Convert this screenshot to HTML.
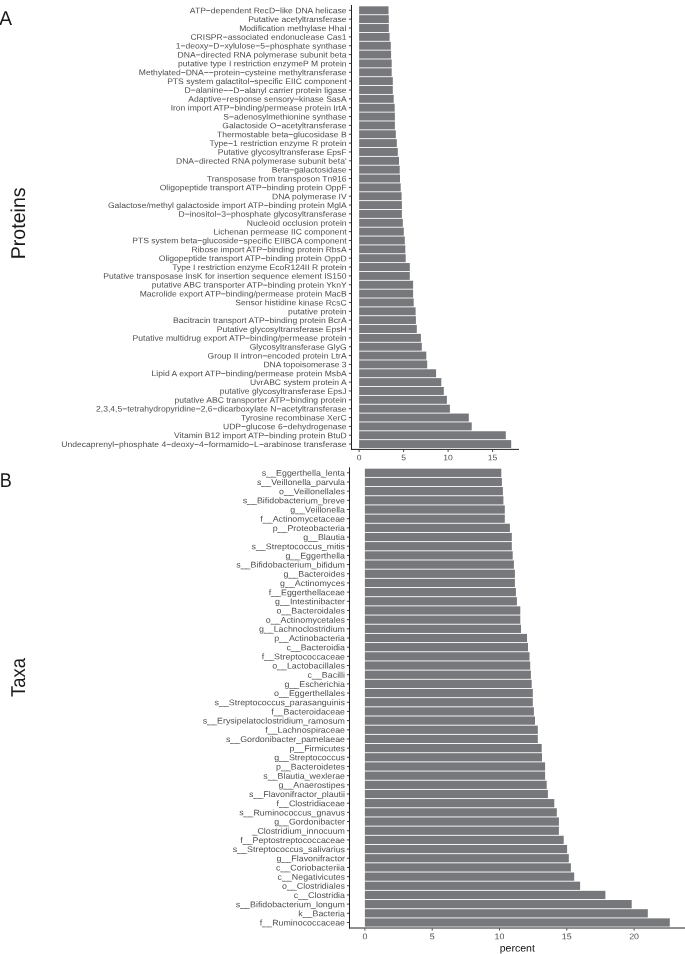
<!DOCTYPE html>
<html lang="en"><head><meta charset="utf-8"><title>Figure</title>
<style>html,body{margin:0;padding:0;background:#fff}svg{display:block}text{text-rendering:geometricPrecision}</style></head>
<body>
<svg width="685" height="954" viewBox="0 0 685 954" font-family="'Liberation Sans', Arial, Helvetica, sans-serif">
<rect width="685" height="954" fill="#ffffff"/>
<g fill="#77787b">
<rect x="359.10" y="6.33" width="29.40" height="7.97"/>
<rect x="359.10" y="15.18" width="29.70" height="7.97"/>
<rect x="359.10" y="24.03" width="29.70" height="7.97"/>
<rect x="359.10" y="32.89" width="30.50" height="7.97"/>
<rect x="359.10" y="41.74" width="31.70" height="7.97"/>
<rect x="359.10" y="50.59" width="32.00" height="7.97"/>
<rect x="359.10" y="59.44" width="32.60" height="7.97"/>
<rect x="359.10" y="68.30" width="32.60" height="7.97"/>
<rect x="359.10" y="77.15" width="33.70" height="7.97"/>
<rect x="359.10" y="86.00" width="33.70" height="7.97"/>
<rect x="359.10" y="94.85" width="34.60" height="7.97"/>
<rect x="359.10" y="103.71" width="35.60" height="7.97"/>
<rect x="359.10" y="112.56" width="35.80" height="7.97"/>
<rect x="359.10" y="121.41" width="35.80" height="7.97"/>
<rect x="359.10" y="130.26" width="36.70" height="7.97"/>
<rect x="359.10" y="139.12" width="37.70" height="7.97"/>
<rect x="359.10" y="147.97" width="38.70" height="7.97"/>
<rect x="359.10" y="156.82" width="39.90" height="7.97"/>
<rect x="359.10" y="165.67" width="40.60" height="7.97"/>
<rect x="359.10" y="174.53" width="40.90" height="7.97"/>
<rect x="359.10" y="183.38" width="41.60" height="7.97"/>
<rect x="359.10" y="192.23" width="42.50" height="7.97"/>
<rect x="359.10" y="201.08" width="42.80" height="7.97"/>
<rect x="359.10" y="209.94" width="42.80" height="7.97"/>
<rect x="359.10" y="218.79" width="43.70" height="7.97"/>
<rect x="359.10" y="227.64" width="44.70" height="7.97"/>
<rect x="359.10" y="236.50" width="45.70" height="7.97"/>
<rect x="359.10" y="245.35" width="46.20" height="7.97"/>
<rect x="359.10" y="254.20" width="46.60" height="7.97"/>
<rect x="359.10" y="263.05" width="50.70" height="7.97"/>
<rect x="359.10" y="271.91" width="50.70" height="7.97"/>
<rect x="359.10" y="280.76" width="54.00" height="7.97"/>
<rect x="359.10" y="289.61" width="54.00" height="7.97"/>
<rect x="359.10" y="298.46" width="54.60" height="7.97"/>
<rect x="359.10" y="307.32" width="56.50" height="7.97"/>
<rect x="359.10" y="316.17" width="56.80" height="7.97"/>
<rect x="359.10" y="325.02" width="57.70" height="7.97"/>
<rect x="359.10" y="333.87" width="61.80" height="7.97"/>
<rect x="359.10" y="342.73" width="62.70" height="7.97"/>
<rect x="359.10" y="351.58" width="67.20" height="7.97"/>
<rect x="359.10" y="360.43" width="68.10" height="7.97"/>
<rect x="359.10" y="369.28" width="77.00" height="7.97"/>
<rect x="359.10" y="378.14" width="82.20" height="7.97"/>
<rect x="359.10" y="386.99" width="84.70" height="7.97"/>
<rect x="359.10" y="395.84" width="87.80" height="7.97"/>
<rect x="359.10" y="404.69" width="90.80" height="7.97"/>
<rect x="359.10" y="413.55" width="109.70" height="7.97"/>
<rect x="359.10" y="422.40" width="112.60" height="7.97"/>
<rect x="359.10" y="431.25" width="146.70" height="7.97"/>
<rect x="359.10" y="440.10" width="152.10" height="7.97"/>
</g>
<g stroke="#222222" stroke-width="1.00" fill="none">
<path d="M351.50 5.00V449.90"/>
<path d="M351.00 449.40H519.00"/>
</g>
<path stroke="#2a2a2a" stroke-width="0.85" fill="none" d="M348.90 10.31h2.10M348.90 19.16h2.10M348.90 28.02h2.10M348.90 36.87h2.10M348.90 45.72h2.10M348.90 54.57h2.10M348.90 63.43h2.10M348.90 72.28h2.10M348.90 81.13h2.10M348.90 89.98h2.10M348.90 98.84h2.10M348.90 107.69h2.10M348.90 116.54h2.10M348.90 125.40h2.10M348.90 134.25h2.10M348.90 143.10h2.10M348.90 151.95h2.10M348.90 160.81h2.10M348.90 169.66h2.10M348.90 178.51h2.10M348.90 187.36h2.10M348.90 196.22h2.10M348.90 205.07h2.10M348.90 213.92h2.10M348.90 222.77h2.10M348.90 231.63h2.10M348.90 240.48h2.10M348.90 249.33h2.10M348.90 258.18h2.10M348.90 267.04h2.10M348.90 275.89h2.10M348.90 284.74h2.10M348.90 293.59h2.10M348.90 302.45h2.10M348.90 311.30h2.10M348.90 320.15h2.10M348.90 329.00h2.10M348.90 337.86h2.10M348.90 346.71h2.10M348.90 355.56h2.10M348.90 364.42h2.10M348.90 373.27h2.10M348.90 382.12h2.10M348.90 390.97h2.10M348.90 399.83h2.10M348.90 408.68h2.10M348.90 417.53h2.10M348.90 426.38h2.10M348.90 435.24h2.10M348.90 444.09h2.10M359.10 449.90v2.10M403.60 449.90v2.10M448.10 449.90v2.10M492.60 449.90v2.10"/>
<g font-size="8.00" fill="#4d4d4d" text-anchor="end">
<text transform="translate(346.60 13.26) rotate(.03) scale(1.069 1)">ATP−dependent RecD−like DNA helicase</text>
<text transform="translate(346.60 22.12) rotate(.03) scale(1.069 1)">Putative acetyltransferase</text>
<text transform="translate(346.60 30.97) rotate(.03) scale(1.069 1)">Modification methylase HhaI</text>
<text transform="translate(346.60 39.82) rotate(.03) scale(1.069 1)">CRISPR−associated endonuclease Cas1</text>
<text transform="translate(346.60 48.67) rotate(.03) scale(1.069 1)">1−deoxy−D−xylulose−5−phosphate synthase</text>
<text transform="translate(346.60 57.53) rotate(.03) scale(1.069 1)">DNA−directed RNA polymerase subunit beta</text>
<text transform="translate(346.60 66.38) rotate(.03) scale(1.069 1)">putative type I restriction enzymeP M protein</text>
<text transform="translate(346.60 75.23) rotate(.03) scale(1.069 1)">Methylated−DNA−−protein−cysteine methyltransferase</text>
<text transform="translate(346.60 84.08) rotate(.03) scale(1.069 1)">PTS system galactitol−specific EIIC component</text>
<text transform="translate(346.60 92.94) rotate(.03) scale(1.069 1)">D−alanine−−D−alanyl carrier protein ligase</text>
<text transform="translate(346.60 101.79) rotate(.03) scale(1.069 1)">Adaptive−response sensory−kinase SasA</text>
<text transform="translate(346.60 110.64) rotate(.03) scale(1.069 1)">Iron import ATP−binding/permease protein IrtA</text>
<text transform="translate(346.60 119.49) rotate(.03) scale(1.069 1)">S−adenosylmethionine synthase</text>
<text transform="translate(346.60 128.35) rotate(.03) scale(1.069 1)">Galactoside O−acetyltransferase</text>
<text transform="translate(346.60 137.20) rotate(.03) scale(1.069 1)">Thermostable beta−glucosidase B</text>
<text transform="translate(346.60 146.05) rotate(.03) scale(1.069 1)">Type−1 restriction enzyme R protein</text>
<text transform="translate(346.60 154.90) rotate(.03) scale(1.069 1)">Putative glycosyltransferase EpsF</text>
<text transform="translate(346.60 163.76) rotate(.03) scale(1.069 1)">DNA−directed RNA polymerase subunit beta'</text>
<text transform="translate(346.60 172.61) rotate(.03) scale(1.069 1)">Beta−galactosidase</text>
<text transform="translate(346.60 181.46) rotate(.03) scale(1.069 1)">Transposase from transposon Tn916</text>
<text transform="translate(346.60 190.32) rotate(.03) scale(1.069 1)">Oligopeptide transport ATP−binding protein OppF</text>
<text transform="translate(346.60 199.17) rotate(.03) scale(1.069 1)">DNA polymerase IV</text>
<text transform="translate(346.60 208.02) rotate(.03) scale(1.069 1)">Galactose/methyl galactoside import ATP−binding protein MglA</text>
<text transform="translate(346.60 216.87) rotate(.03) scale(1.069 1)">D−inositol−3−phosphate glycosyltransferase</text>
<text transform="translate(346.60 225.73) rotate(.03) scale(1.069 1)">Nucleoid occlusion protein</text>
<text transform="translate(346.60 234.58) rotate(.03) scale(1.069 1)">Lichenan permease IIC component</text>
<text transform="translate(346.60 243.43) rotate(.03) scale(1.069 1)">PTS system beta−glucoside−specific EIIBCA component</text>
<text transform="translate(346.60 252.28) rotate(.03) scale(1.069 1)">Ribose import ATP−binding protein RbsA</text>
<text transform="translate(346.60 261.14) rotate(.03) scale(1.069 1)">Oligopeptide transport ATP−binding protein OppD</text>
<text transform="translate(346.60 269.99) rotate(.03) scale(1.069 1)">Type I restriction enzyme EcoR124II R protein</text>
<text transform="translate(346.60 278.84) rotate(.03) scale(1.069 1)">Putative transposase InsK for insertion sequence element IS150</text>
<text transform="translate(346.60 287.69) rotate(.03) scale(1.069 1)">putative ABC transporter ATP−binding protein YknY</text>
<text transform="translate(346.60 296.55) rotate(.03) scale(1.069 1)">Macrolide export ATP−binding/permease protein MacB</text>
<text transform="translate(346.60 305.40) rotate(.03) scale(1.069 1)">Sensor histidine kinase RcsC</text>
<text transform="translate(346.60 314.25) rotate(.03) scale(1.069 1)">putative protein</text>
<text transform="translate(346.60 323.10) rotate(.03) scale(1.069 1)">Bacitracin transport ATP−binding protein BcrA</text>
<text transform="translate(346.60 331.96) rotate(.03) scale(1.069 1)">Putative glycosyltransferase EpsH</text>
<text transform="translate(346.60 340.81) rotate(.03) scale(1.069 1)">Putative multidrug export ATP−binding/permease protein</text>
<text transform="translate(346.60 349.66) rotate(.03) scale(1.069 1)">Glycosyltransferase GlyG</text>
<text transform="translate(346.60 358.51) rotate(.03) scale(1.069 1)">Group II intron−encoded protein LtrA</text>
<text transform="translate(346.60 367.37) rotate(.03) scale(1.069 1)">DNA topoisomerase 3</text>
<text transform="translate(346.60 376.22) rotate(.03) scale(1.069 1)">Lipid A export ATP−binding/permease protein MsbA</text>
<text transform="translate(346.60 385.07) rotate(.03) scale(1.069 1)">UvrABC system protein A</text>
<text transform="translate(346.60 393.92) rotate(.03) scale(1.069 1)">putative glycosyltransferase EpsJ</text>
<text transform="translate(346.60 402.78) rotate(.03) scale(1.069 1)">putative ABC transporter ATP−binding protein</text>
<text transform="translate(346.60 411.63) rotate(.03) scale(1.069 1)">2,3,4,5−tetrahydropyridine−2,6−dicarboxylate N−acetyltransferase</text>
<text transform="translate(346.60 420.48) rotate(.03) scale(1.069 1)">Tyrosine recombinase XerC</text>
<text transform="translate(346.60 429.34) rotate(.03) scale(1.069 1)">UDP−glucose 6−dehydrogenase</text>
<text transform="translate(346.60 438.19) rotate(.03) scale(1.069 1)">Vitamin B12 import ATP−binding protein BtuD</text>
<text transform="translate(346.60 447.04) rotate(.03) scale(1.069 1)">Undecaprenyl−phosphate 4−deoxy−4−formamido−L−arabinose transferase</text>
</g>
<g font-size="8.00" fill="#4d4d4d" text-anchor="middle">
<text transform="translate(359.10 460.25) rotate(.03) scale(1.069 1)">0</text>
<text transform="translate(403.60 460.25) rotate(.03) scale(1.069 1)">5</text>
<text transform="translate(448.10 460.25) rotate(.03) scale(1.069 1)">10</text>
<text transform="translate(492.60 460.25) rotate(.03) scale(1.069 1)">15</text>
</g>
<g fill="#77787b">
<rect x="364.90" y="468.68" width="136.40" height="8.26"/>
<rect x="364.90" y="477.85" width="137.00" height="8.26"/>
<rect x="364.90" y="487.03" width="138.00" height="8.26"/>
<rect x="364.90" y="496.21" width="138.50" height="8.26"/>
<rect x="364.90" y="505.39" width="139.90" height="8.26"/>
<rect x="364.90" y="514.56" width="139.90" height="8.26"/>
<rect x="364.90" y="523.74" width="145.00" height="8.26"/>
<rect x="364.90" y="532.92" width="146.90" height="8.26"/>
<rect x="364.90" y="542.09" width="146.90" height="8.26"/>
<rect x="364.90" y="551.27" width="147.80" height="8.26"/>
<rect x="364.90" y="560.45" width="149.00" height="8.26"/>
<rect x="364.90" y="569.63" width="150.00" height="8.26"/>
<rect x="364.90" y="578.80" width="150.00" height="8.26"/>
<rect x="364.90" y="587.98" width="151.00" height="8.26"/>
<rect x="364.90" y="597.16" width="152.00" height="8.26"/>
<rect x="364.90" y="606.34" width="155.40" height="8.26"/>
<rect x="364.90" y="615.51" width="155.40" height="8.26"/>
<rect x="364.90" y="624.69" width="156.10" height="8.26"/>
<rect x="364.90" y="633.87" width="162.10" height="8.26"/>
<rect x="364.90" y="643.05" width="163.10" height="8.26"/>
<rect x="364.90" y="652.22" width="164.60" height="8.26"/>
<rect x="364.90" y="661.40" width="165.30" height="8.26"/>
<rect x="364.90" y="670.58" width="166.00" height="8.26"/>
<rect x="364.90" y="679.75" width="166.80" height="8.26"/>
<rect x="364.90" y="688.93" width="167.90" height="8.26"/>
<rect x="364.90" y="698.11" width="167.90" height="8.26"/>
<rect x="364.90" y="707.29" width="169.00" height="8.26"/>
<rect x="364.90" y="716.46" width="170.10" height="8.26"/>
<rect x="364.90" y="725.64" width="172.90" height="8.26"/>
<rect x="364.90" y="734.82" width="172.90" height="8.26"/>
<rect x="364.90" y="744.00" width="176.80" height="8.26"/>
<rect x="364.90" y="753.17" width="177.10" height="8.26"/>
<rect x="364.90" y="762.35" width="180.20" height="8.26"/>
<rect x="364.90" y="771.53" width="180.20" height="8.26"/>
<rect x="364.90" y="780.70" width="181.80" height="8.26"/>
<rect x="364.90" y="789.88" width="183.00" height="8.26"/>
<rect x="364.90" y="799.06" width="189.40" height="8.26"/>
<rect x="364.90" y="808.24" width="191.90" height="8.26"/>
<rect x="364.90" y="817.41" width="194.00" height="8.26"/>
<rect x="364.90" y="826.59" width="194.00" height="8.26"/>
<rect x="364.90" y="835.77" width="198.80" height="8.26"/>
<rect x="364.90" y="844.95" width="202.20" height="8.26"/>
<rect x="364.90" y="854.12" width="203.90" height="8.26"/>
<rect x="364.90" y="863.30" width="206.00" height="8.26"/>
<rect x="364.90" y="872.48" width="209.30" height="8.26"/>
<rect x="364.90" y="881.65" width="215.20" height="8.26"/>
<rect x="364.90" y="890.83" width="240.50" height="8.26"/>
<rect x="364.90" y="900.01" width="266.80" height="8.26"/>
<rect x="364.90" y="909.19" width="282.90" height="8.26"/>
<rect x="364.90" y="918.36" width="304.90" height="8.26"/>
</g>
<g stroke="#222222" stroke-width="1.00" fill="none">
<path d="M349.50 467.30V928.50"/>
<path d="M349.00 928.00H685.00"/>
</g>
<path stroke="#2a2a2a" stroke-width="0.85" fill="none" d="M346.90 472.81h2.10M346.90 481.98h2.10M346.90 491.16h2.10M346.90 500.34h2.10M346.90 509.52h2.10M346.90 518.69h2.10M346.90 527.87h2.10M346.90 537.05h2.10M346.90 546.22h2.10M346.90 555.40h2.10M346.90 564.58h2.10M346.90 573.76h2.10M346.90 582.93h2.10M346.90 592.11h2.10M346.90 601.29h2.10M346.90 610.47h2.10M346.90 619.64h2.10M346.90 628.82h2.10M346.90 638.00h2.10M346.90 647.17h2.10M346.90 656.35h2.10M346.90 665.53h2.10M346.90 674.71h2.10M346.90 683.88h2.10M346.90 693.06h2.10M346.90 702.24h2.10M346.90 711.42h2.10M346.90 720.59h2.10M346.90 729.77h2.10M346.90 738.95h2.10M346.90 748.13h2.10M346.90 757.30h2.10M346.90 766.48h2.10M346.90 775.66h2.10M346.90 784.83h2.10M346.90 794.01h2.10M346.90 803.19h2.10M346.90 812.37h2.10M346.90 821.54h2.10M346.90 830.72h2.10M346.90 839.90h2.10M346.90 849.08h2.10M346.90 858.25h2.10M346.90 867.43h2.10M346.90 876.61h2.10M346.90 885.78h2.10M346.90 894.96h2.10M346.90 904.14h2.10M346.90 913.32h2.10M346.90 922.49h2.10M364.90 928.50v2.10M432.20 928.50v2.10M499.50 928.50v2.10M566.80 928.50v2.10M634.10 928.50v2.10"/>
<g font-size="8.29" fill="#4d4d4d" text-anchor="end">
<text transform="translate(345.00 475.87) rotate(.03) scale(1.069 1)">s__Eggerthella_lenta</text>
<text transform="translate(345.00 485.04) rotate(.03) scale(1.069 1)">s__Veillonella_parvula</text>
<text transform="translate(345.00 494.22) rotate(.03) scale(1.069 1)">o__Veillonellales</text>
<text transform="translate(345.00 503.40) rotate(.03) scale(1.069 1)">s__Bifidobacterium_breve</text>
<text transform="translate(345.00 512.57) rotate(.03) scale(1.069 1)">g__Veillonella</text>
<text transform="translate(345.00 521.75) rotate(.03) scale(1.069 1)">f__Actinomycetaceae</text>
<text transform="translate(345.00 530.93) rotate(.03) scale(1.069 1)">p__Proteobacteria</text>
<text transform="translate(345.00 540.11) rotate(.03) scale(1.069 1)">g__Blautia</text>
<text transform="translate(345.00 549.28) rotate(.03) scale(1.069 1)">s__Streptococcus_mitis</text>
<text transform="translate(345.00 558.46) rotate(.03) scale(1.069 1)">g__Eggerthella</text>
<text transform="translate(345.00 567.64) rotate(.03) scale(1.069 1)">s__Bifidobacterium_bifidum</text>
<text transform="translate(345.00 576.82) rotate(.03) scale(1.069 1)">g__Bacteroides</text>
<text transform="translate(345.00 585.99) rotate(.03) scale(1.069 1)">g__Actinomyces</text>
<text transform="translate(345.00 595.17) rotate(.03) scale(1.069 1)">f__Eggerthellaceae</text>
<text transform="translate(345.00 604.35) rotate(.03) scale(1.069 1)">g__Intestinibacter</text>
<text transform="translate(345.00 613.52) rotate(.03) scale(1.069 1)">o__Bacteroidales</text>
<text transform="translate(345.00 622.70) rotate(.03) scale(1.069 1)">o__Actinomycetales</text>
<text transform="translate(345.00 631.88) rotate(.03) scale(1.069 1)">g__Lachnoclostridium</text>
<text transform="translate(345.00 641.06) rotate(.03) scale(1.069 1)">p__Actinobacteria</text>
<text transform="translate(345.00 650.23) rotate(.03) scale(1.069 1)">c__Bacteroidia</text>
<text transform="translate(345.00 659.41) rotate(.03) scale(1.069 1)">f__Streptococcaceae</text>
<text transform="translate(345.00 668.59) rotate(.03) scale(1.069 1)">o__Lactobacillales</text>
<text transform="translate(345.00 677.77) rotate(.03) scale(1.069 1)">c__Bacilli</text>
<text transform="translate(345.00 686.94) rotate(.03) scale(1.069 1)">g__Escherichia</text>
<text transform="translate(345.00 696.12) rotate(.03) scale(1.069 1)">o__Eggerthellales</text>
<text transform="translate(345.00 705.30) rotate(.03) scale(1.069 1)">s__Streptococcus_parasanguinis</text>
<text transform="translate(345.00 714.47) rotate(.03) scale(1.069 1)">f__Bacteroidaceae</text>
<text transform="translate(345.00 723.65) rotate(.03) scale(1.069 1)">s__Erysipelatoclostridium_ramosum</text>
<text transform="translate(345.00 732.83) rotate(.03) scale(1.069 1)">f__Lachnospiraceae</text>
<text transform="translate(345.00 742.01) rotate(.03) scale(1.069 1)">s__Gordonibacter_pamelaeae</text>
<text transform="translate(345.00 751.18) rotate(.03) scale(1.069 1)">p__Firmicutes</text>
<text transform="translate(345.00 760.36) rotate(.03) scale(1.069 1)">g__Streptococcus</text>
<text transform="translate(345.00 769.54) rotate(.03) scale(1.069 1)">p__Bacteroidetes</text>
<text transform="translate(345.00 778.72) rotate(.03) scale(1.069 1)">s__Blautia_wexlerae</text>
<text transform="translate(345.00 787.89) rotate(.03) scale(1.069 1)">g__Anaerostipes</text>
<text transform="translate(345.00 797.07) rotate(.03) scale(1.069 1)">s__Flavonifractor_plautii</text>
<text transform="translate(345.00 806.25) rotate(.03) scale(1.069 1)">f__Clostridiaceae</text>
<text transform="translate(345.00 815.43) rotate(.03) scale(1.069 1)">s__Ruminococcus_gnavus</text>
<text transform="translate(345.00 824.60) rotate(.03) scale(1.069 1)">g__Gordonibacter</text>
<text transform="translate(345.00 833.78) rotate(.03) scale(1.069 1)">_Clostridium_innocuum</text>
<text transform="translate(345.00 842.96) rotate(.03) scale(1.069 1)">f__Peptostreptococcaceae</text>
<text transform="translate(345.00 852.13) rotate(.03) scale(1.069 1)">s__Streptococcus_salivarius</text>
<text transform="translate(345.00 861.31) rotate(.03) scale(1.069 1)">g__Flavonifractor</text>
<text transform="translate(345.00 870.49) rotate(.03) scale(1.069 1)">c__Coriobacteriia</text>
<text transform="translate(345.00 879.67) rotate(.03) scale(1.069 1)">c__Negativicutes</text>
<text transform="translate(345.00 888.84) rotate(.03) scale(1.069 1)">o__Clostridiales</text>
<text transform="translate(345.00 898.02) rotate(.03) scale(1.069 1)">c__Clostridia</text>
<text transform="translate(345.00 907.20) rotate(.03) scale(1.069 1)">s__Bifidobacterium_longum</text>
<text transform="translate(345.00 916.38) rotate(.03) scale(1.069 1)">k__Bacteria</text>
<text transform="translate(345.00 925.55) rotate(.03) scale(1.069 1)">f__Ruminococcaceae</text>
</g>
<g font-size="8.29" fill="#4d4d4d" text-anchor="middle">
<text transform="translate(364.90 939.20) rotate(.03) scale(1.069 1)">0</text>
<text transform="translate(432.20 939.20) rotate(.03) scale(1.069 1)">5</text>
<text transform="translate(499.50 939.20) rotate(.03) scale(1.069 1)">10</text>
<text transform="translate(566.80 939.20) rotate(.03) scale(1.069 1)">15</text>
<text transform="translate(634.10 939.20) rotate(.03) scale(1.069 1)">20</text>
</g>
<text transform="translate(517.3 951.45) rotate(.03) scale(1.042 1)" font-size="10.15" fill="#111111" text-anchor="middle">percent</text>
<g fill="#1a1a1a" font-size="20.0">
<text transform="translate(-0.7 24.9) scale(.96 1)">A</text>
<text transform="translate(-0.35 487.2) scale(.9 1)">B</text>
<text transform="translate(25.15 259.2) rotate(-90)" textLength="71.8" lengthAdjust="spacingAndGlyphs">Proteins</text>
<text transform="translate(25.15 696.9) rotate(-90)" textLength="38.9" lengthAdjust="spacingAndGlyphs">Taxa</text>
</g>
</svg>
</body></html>
